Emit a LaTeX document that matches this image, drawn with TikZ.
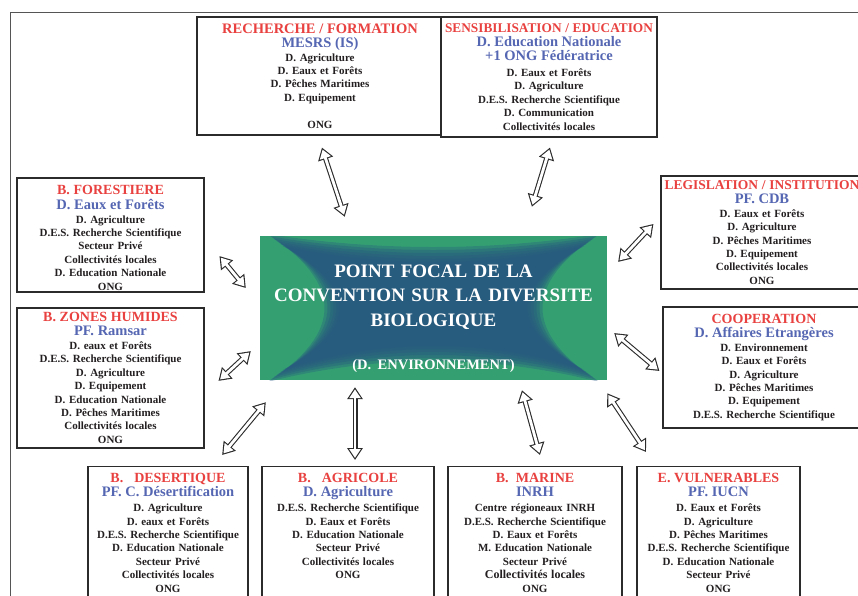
\documentclass[tikz,border=0pt]{standalone}
\usepackage{fontspec}
\setmainfont{Liberation Serif}
\usepackage{xcolor}
\definecolor{cRed}{HTML}{E8413F}
\definecolor{cBlue}{HTML}{5566B2}
\definecolor{cInk}{HTML}{231F20}
\definecolor{cFrame}{HTML}{2B2B2B}
\definecolor{cGray}{HTML}{555555}
\definecolor{cGreen}{HTML}{34A072}
\definecolor{cDeep}{HTML}{285880}
\usepackage{tikz}
\usetikzlibrary{arrows.meta,calc}
\frenchspacing
\newcommand{\boxtitle}[1]{{\color{cRed}\fontsize{14}{15}\selectfont #1}}
\newcommand{\boxlead}[1]{{\color{cBlue}\fontsize{14.5}{15}\selectfont #1}}
\tikzset{
  node-box/.style={draw=cFrame,line width=1.2pt,fill=white,align=center,
    inner sep=0pt,text=cInk,font=\bfseries\fontsize{11}{13.4}\selectfont},
  node-low/.style={node-box,anchor=north,inner ysep=7pt},
  node-focal/.style={minimum width=347pt,minimum height=144pt,inner sep=0pt,
    path picture={
      \fill[cGreen] (path picture bounding box.south west) rectangle
        (path picture bounding box.north east);
      % soft blue core: stacked concave shapes
      \foreach \k in {0,...,5}{
        \pgfmathsetmacro\A{166-3*\k}
        \pgfmathsetmacro\B{74-2.4*\k}
        \pgfmathsetmacro\T{-\B+4/3*(13+0.6*\k)}
        \pgfmathsetmacro\L{-\A+4/3*57}
        \pgfmathsetmacro\D{\B-4/3*(21+0.6*\k)}
        \fill[cDeep,opacity=0.34,shift={(path picture bounding box.center)}]
          (-\A,-\B) .. controls (-\A/3,\T) and (\A/3,\T) .. (\A,-\B)
          .. controls (-\L,-\B/3) and (-\L,\B/3) .. (\A,\B)
          .. controls (\A/3,\D) and (-\A/3,\D) .. (-\A,\B)
          .. controls (\L,\B/3) and (\L,-\B/3) .. cycle;
      }
    }},
  focal-text/.style={text=white,align=center,text width=340pt,
    font=\bfseries\fontsize{19}{24.5}\selectfont},
  arrow-both/.style 2 args={draw=cFrame,line width=5pt,
    >={Triangle[length=12pt,width=15pt]},<->,
    shorten <=#1,shorten >=#2,
    postaction={draw=white,line width=2.8pt,
      >={Triangle[length=8.8pt,width=11pt]},<->,
      shorten <=#1+2.1pt,shorten >=#2+2.1pt}},
}

\begin{document}
\begin{tikzpicture}[x=1pt,y=-1pt]
  \useasboundingbox (0,0) rectangle (858,595);
  \clip (0,0) rectangle (858,595);
  \draw[cGray,line width=0.8pt] (10,12) rectangle (900,640);

  \node[node-focal] (pf) at (433.5,308) {};
  \node[focal-text] (pftitle) at ([shift={(0,10.5)}]pf.center)
    {POINT FOCAL DE LA\\CONVENTION SUR LA DIVERSITE\\BIOLOGIQUE\\[18.5pt]
     {\fontsize{14.5}{16}\selectfont (D. ENVIRONNEMENT)}};

  \node[node-box,minimum width=246pt,minimum height=118pt,text width=242pt]
    (rech) at (320,76)
    {{\color{cRed}\fontsize{14.5}{15}\selectfont RECHERCHE / FORMATION}\\[0.5pt]
     \boxlead{MESRS (IS)}\\[0.5pt]
     D. Agriculture\\D. Eaux et Forêts\\D. Pêches Maritimes\\D. Equipement\\[13.4pt]
     ONG};
  \node[node-box,minimum width=216pt,minimum height=120pt,text width=214pt]
    (sens) at (549,77)
    {{\color{cRed}\fontsize{13.3}{15}\selectfont SENSIBILISATION / EDUCATION}\\[0.5pt]
     \boxlead{D. Education Nationale}\\[0.5pt]\boxlead{+1 ONG Fédératrice}\\[2.5pt]
     D. Eaux et Forêts\\D. Agriculture\\D.E.S. Recherche Scientifique\\
     D. Communication\\Collectivités locales};
  \node[node-box,minimum width=187pt,minimum height=114pt,text width=183pt]
    (fore) at (110.5,235)
    {\rule{0pt}{15pt}\boxtitle{B. FORESTIERE}\\[1pt]\boxlead{D. Eaux et Forêts}\\[0.5pt]
     D. Agriculture\\D.E.S. Recherche Scientifique\\Secteur Privé\\
     Collectivités locales\\D. Education Nationale\\ONG};
  \node[node-box,minimum width=202pt,minimum height=113pt,text width=200pt]
    (leg) at (762,232.5)
    {{\color{cRed}\fontsize{13.5}{15}\selectfont LEGISLATION / INSTITUTION}\\[0.5pt]
     \boxlead{PF. CDB}\\[0.5pt]
     D. Eaux et Forêts\\D. Agriculture\\D. Pêches Maritimes\\D. Equipement\\
     Collectivités locales\\ONG};
  \node[node-box,minimum width=187pt,minimum height=140pt,text width=183pt]
    (zh) at (110.5,378)
    {\boxtitle{B.\ ZONES\ HUMIDES}\\[0.5pt]\boxlead{PF. Ramsar}\\[0.5pt]
     D. eaux et Forêts\\D.E.S. Recherche Scientifique\\D. Agriculture\\
     D. Equipement\\D. Education Nationale\\D. Pêches Maritimes\\
     Collectivités locales\\ONG};
  \node[node-box,minimum width=202pt,minimum height=121pt,text width=200pt]
    (coop) at (764,367.5)
    {\boxtitle{COOPERATION}\\[0.5pt]\boxlead{D. Affaires Etrangères}\\[0.5pt]
     D. Environnement\\D. Eaux et Forêts\\D. Agriculture\\D. Pêches Maritimes\\
     D. Equipement\\D.E.S. Recherche Scientifique};

  \node[node-low,minimum width=160pt,text width=158pt] (des) at (168,466)
    {\boxtitle{B.\ \ \ DESERTIQUE}\\[0.5pt]\boxlead{PF. C. Désertification}\\[1.5pt]
     D. Agriculture\\D. eaux et Forêts\\D.E.S. Recherche Scientifique\\
     D. Education Nationale\\Secteur Privé\\Collectivités locales\\ONG\\ \mbox{}};
  \node[node-low,minimum width=172pt,text width=170pt] (agr) at (348,466)
    {\boxtitle{B.\ \ \ AGRICOLE}\\[0.5pt]\boxlead{D. Agriculture}\\[1.5pt]
     D.E.S. Recherche Scientifique\\D. Eaux et Forêts\\D. Education Nationale\\
     Secteur Privé\\Collectivités locales\\ONG\\ \mbox{}\\ \mbox{}};
  \node[node-low,minimum width=174pt,text width=172pt] (mar) at (535,466)
    {\boxtitle{B.\ \ MARINE}\\[0.5pt]\boxlead{INRH}\\[1.5pt]
     Centre régioneaux INRH\\D.E.S. Recherche Scientifique\\D. Eaux et Forêts\\
     M. Education Nationale\\Secteur Privé\\
     {\fontsize{12}{13.4}\selectfont Collectivités locales}\\ONG\\ \mbox{}};
  \node[node-low,minimum width=163pt,text width=161pt] (vul) at (718.5,466)
    {\boxtitle{E. VULNERABLES}\\[0.5pt]\boxlead{PF. IUCN}\\[1.5pt]
     D. Eaux et Forêts\\D. Agriculture\\D. Pêches Maritimes\\
     D.E.S. Recherche Scientifique\\D. Education Nationale\\Secteur Privé\\ONG\\ \mbox{}};

  \draw[arrow-both={12.6pt}{20pt}] ([shift={(-2,0)}]rech.south) -- ([shift={(-82.5,0)}]pf.north);
  \draw[arrow-both={10.4pt}{30.4pt}] ([shift={(4,0)}]sens.south) -- ([shift={(89.5,0)}]pf.north);
  \draw[arrow-both={23.4pt}{22pt}] ([shift={(0,3)}]fore.east) -- ([shift={(0,-3)}]pf.west);
  \draw[arrow-both={10.2pt}{16pt}] ([shift={(0,-16)}]leg.west) -- ([shift={(0,-34.4)}]pf.east);
  \draw[arrow-both={18.9pt}{12.2pt}] ([shift={(0,15.7)}]zh.east) -- ([shift={(0,34.8)}]pf.west);
  \draw[arrow-both={3.9pt}{9.1pt}] ([shift={(0,6)}]coop.west) -- ([shift={(0,19.2)}]pf.east);
  \draw[arrow-both={14.3pt}{28.6pt}] ([shift={(45,0)}]des.north) -- ([shift={(24.3,0)}]pf.south west);
  \draw[arrow-both={6pt}{7pt}] ([shift={(7,0)}]agr.north) -- ([shift={(-78.5,0)}]pf.south);
  \draw[arrow-both={11.4pt}{10.4pt}] ([shift={(8,0)}]mar.north) -- ([shift={(85.7,0)}]pf.south);
  \draw[arrow-both={16.8pt}{15.6pt}] ([shift={(-63.2,0)}]vul.north) -- ([shift={(-8.6,0)}]pf.south east);
\end{tikzpicture}
\end{document}
